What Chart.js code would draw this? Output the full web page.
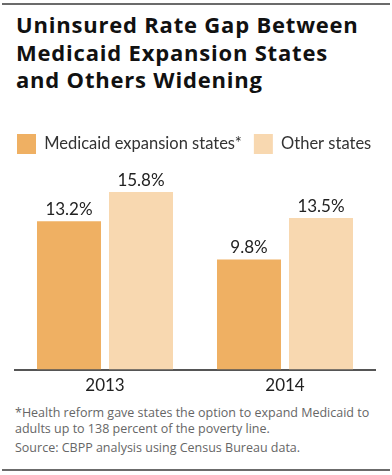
<!DOCTYPE html>
<html lang="en">
<head>
    <meta charset="UTF-8">
    <title>Uninsured Rate Gap</title>
    <style>
        * { margin: 0; padding: 0; box-sizing: border-box; }
        body {
            width: 392px;
            height: 475px;
            background: #fff;
            position: relative;
            overflow: hidden;
            font-family: 'Open Sans', sans-serif;
        }
        .rule { position: absolute; left: 2px; right: 2px; height: 2px; background: #6b6b6b; }
        .rule.top { top: 3px; }
        .rule.bottom { top: 469px; }
        h1 {
            position: absolute;
            left: 16px;
            top: 11px;
            font-size: 22px;
            line-height: 27.5px;
            font-weight: 700;
            color: #111;
            letter-spacing: 0.8px;
        }
        .chart-box { position: absolute; left: 0; top: 122px; width: 392px; height: 280px; }
        .notes {
            position: absolute;
            left: 15px;
            top: 405px;
            font-size: 12.5px;
            line-height: 15.5px;
            color: #666;
        }
        .notes p.src { margin-top: 4px; }
    </style>
</head>
<body>
    <div class="rule top"></div>
    <h1>Uninsured Rate Gap Between<br>Medicaid Expansion States<br>and Others Widening</h1>
    <div class="chart-box"><canvas id="chart"></canvas></div>
    <div class="notes">
        <p>*Health reform gave states the option to expand Medicaid to<br>adults up to 138 percent of the poverty line.</p>
        <p class="src">Source: CBPP analysis using Census Bureau data.</p>
    </div>
    <div class="rule bottom"></div>

    <script src="https://cdn.jsdelivr.net/npm/chart.js"></script>
    <script>
        const years = ['2013', '2014'];
        const expansionStates = [13.2, 9.8];
        const otherStates = [15.8, 13.5];

        // value labels above each bar
        const barLabels = {
            id: 'barLabels',
            afterDatasetsDraw(chart) {
                const ctx = chart.ctx;
                ctx.save();
                ctx.font = '17px Lato';
                ctx.fillStyle = '#222';
                ctx.textAlign = 'center';
                ctx.textBaseline = 'bottom';
                chart.data.datasets.forEach((ds, i) => {
                    chart.getDatasetMeta(i).data.forEach((bar, j) => {
                        ctx.fillText(ds.data[j].toFixed(1) + '%', bar.x, bar.y - 3);
                    });
                });
                ctx.restore();
            }
        };

        new Chart(document.getElementById('chart'), {
            type: 'bar',
            data: {
                labels: years,
                datasets: [
                    { label: 'Medicaid expansion states*', data: expansionStates, backgroundColor: '#EFB063' },
                    { label: 'Other states', data: otherStates, backgroundColor: '#F8D8B0' }
                ]
            },
            options: {
                responsive: true,
                maintainAspectRatio: false,
                animation: false,
                categoryPercentage: 0.8,
                barPercentage: 0.889,
                layout: { padding: { left: 5, right: 3, top: 0, bottom: 0 } },
                plugins: {
                    tooltip: { enabled: false },
                    legend: {
                        align: 'start',
                        labels: {
                            boxWidth: 19,
                            boxHeight: 20,
                            padding: 12,
                            color: '#333',
                            font: { family: 'Lato', size: 16.5 }
                        }
                    }
                },
                scales: {
                    x: {
                        grid: { display: false, drawTicks: false, tickLength: 0 },
                        border: { display: true, color: '#555', width: 2 },
                        ticks: { color: '#222', padding: 6, font: { family: 'Lato', size: 17 } }
                    },
                    y: {
                        min: 0,
                        max: 18.3,
                        grid: { display: false },
                        border: { display: false },
                        ticks: { display: false },
                        afterFit(scale) { scale.width = 10; }
                    },
                    yRight: {
                        position: 'right',
                        grid: { display: false },
                        border: { display: false },
                        ticks: { display: false },
                        afterFit(scale) { scale.width = 14; }
                    }
                }
            },
            plugins: [barLabels]
        });
    </script>
</body>
</html>
